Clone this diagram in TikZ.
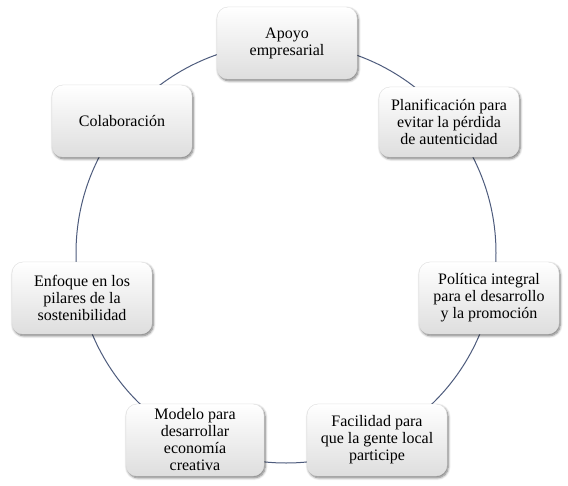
\documentclass[tikz,border=0pt]{standalone}
\usepackage{fontspec}
\setmainfont{Liberation Serif}
\usetikzlibrary{shadows.blur}
\definecolor{ringcol}{HTML}{4D5B7C}
\tikzset{
  cbox/.style={rounded corners=11pt, minimum width=140pt, minimum height=72pt,
    top color=white, bottom color=black!13, draw=black!12, line width=0.4pt,
    align=center, inner sep=2pt,
    font=\fontsize{16pt}{17pt}\selectfont,
    blur shadow={shadow xshift=1.2pt, shadow yshift=-1.8pt, shadow blur steps=6, shadow blur radius=2.5pt, shadow opacity=55}},
  ring/.style={draw=ringcol, line width=1pt}
}
\begin{document}
\begin{tikzpicture}[x=1pt,y=1pt]
\useasboundingbox (0,0) rectangle (568,-485);
\coordinate (c) at (286,-253);
\draw[ring] (c) circle[radius=210];
\node[cbox] (apoyo) at (287,-43) {Apoyo\\empresarial};
\node[cbox, minimum height=70pt] (plan) at (449,-122) {Planificación para\\evitar la pérdida\\de autenticidad};
\node[cbox] (colab) at (122,-121) {Colaboración};
\node[cbox] (enfoque) at (82,-298) {Enfoque en los\\pilares de la\\sostenibilidad};
\node[cbox] (politica) at (489,-298) {Política integral\\para el desarrollo\\y la promoción};
\node[cbox, minimum width=138pt] (modelo) at (195,-440) {Modelo para\\desarrollar\\economía\\creativa};
\node[cbox] (facil) at (377,-440) {Facilidad para\\que la gente local\\participe};
\end{tikzpicture}
\end{document}
